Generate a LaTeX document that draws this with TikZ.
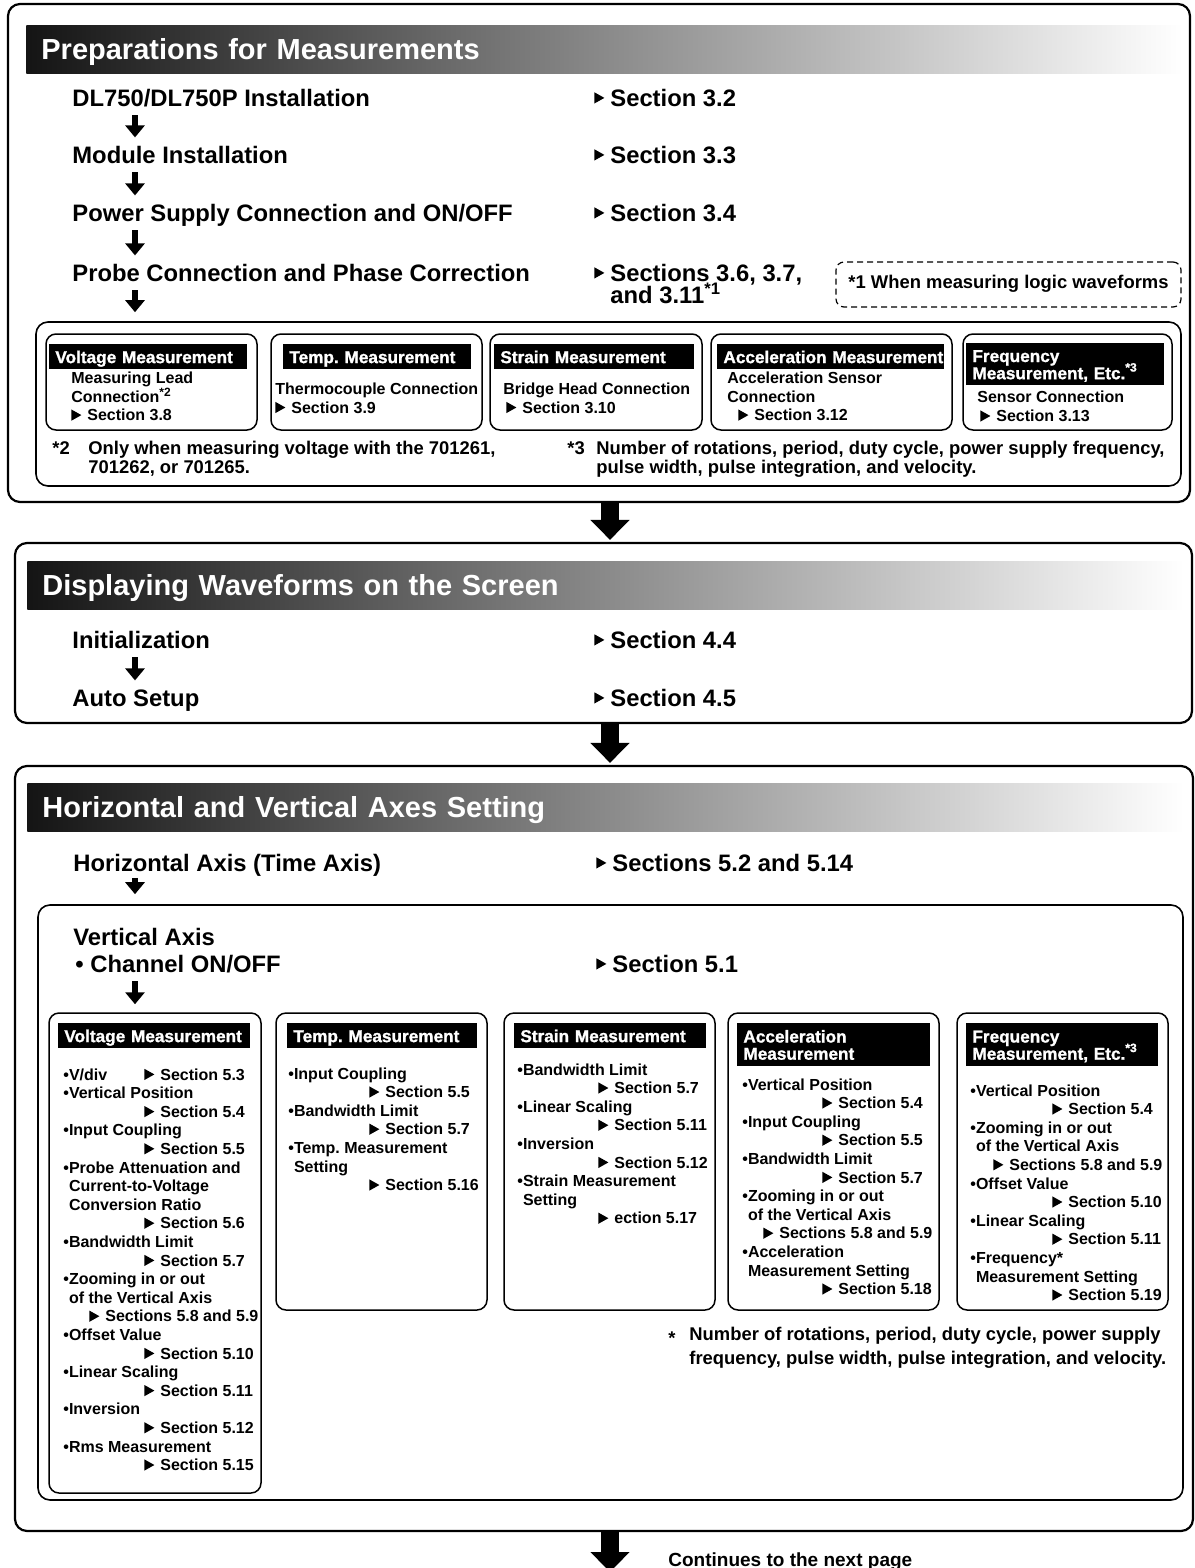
\documentclass[tikz,border=0pt]{standalone}
\usepackage{fontspec}
\setmainfont{Liberation Sans}
\usetikzlibrary{arrows.meta,positioning,fit}
\frenchspacing

\newcommand{\tri}[1][0pt]{\raisebox{#1}{\tikz\fill (0pt,0pt) -- (0pt,5.6pt) -- (5pt,2.8pt) -- cycle;}\hspace{3pt}}

\begin{document}
\begin{tikzpicture}[x=0.5pt, y=-0.5pt,
  frame/.style={draw, line width=1.1pt, rounded corners=6pt, inner sep=0pt},
  inframe/.style={draw, line width=0.8pt, rounded corners=6pt, inner sep=0pt},
  subbox/.style={draw, line width=0.75pt, rounded corners=5pt, inner sep=0pt},
  bar/.style={left color=black!92, right color=white, anchor=north west, minimum height=24pt, text width=563pt, inner xsep=7.5pt, inner ysep=0pt, text height=10.4pt, text depth=0pt, text=white, font=\fontsize{14.5}{16}\selectfont\bfseries},
  lab/.style={fill=black, text=white, anchor=north west, minimum height=12.5pt, inner xsep=3pt, inner ysep=0pt, align=left, text height=6.2pt, text depth=0pt, font=\fontsize{8.6}{8.6}\selectfont\bfseries\addfontfeature{FakeBold=1.2}},
  lab2/.style={lab, text height=6.2pt, text depth=8.6pt},
  item/.style={anchor=base west, inner sep=0pt, text height=8.6pt, text depth=0pt, font=\fontsize{11.9}{14}\selectfont\bfseries},
  body/.style={anchor=north west, inner sep=0pt, align=left, execute at begin node=\strut, font=\fontsize{8}{9.3}\selectfont\bfseries},
  note/.style={anchor=north west, inner sep=0pt, align=left, execute at begin node=\strut, font=\fontsize{9.2}{9.6}\selectfont\bfseries},
  flow/.style={-{Triangle[width=9.5pt,length=6pt]}, line width=3pt, shorten <=4.25pt, shorten >=4.25pt},
  bigflow/.style={-{Triangle[width=19pt,length=10pt]}, line width=9pt}
]
\useasboundingbox (0, 0) rectangle (1194, 1568);
\coordinate (ax) at (135, 0);
\coordinate (mid) at (610, 0);

\node[frame, fit={(8, 4) (1190, 502)}] (prep) {};
\node[bar] (prephead) at (26, 25) {Preparations for Measurements};
\node[item] (inst) at (72, 106.5) {DL750/DL750P Installation};
\node[item] (modl) at (72, 163.5) {Module Installation};
\node[item] (powr) at (72, 221.5) {Power Supply Connection and ON/OFF};
\node[item] (prob) at (72, 281.5) {Probe Connection and Phase Correction};
\node[item] (s32) at (594, 106.5) {\tri[1.5pt]Section 3.2};
\node[item] (s33) at (594, 163.5) {\tri[1.5pt]Section 3.3};
\node[item] (s34) at (594, 221.5) {\tri[1.5pt]Section 3.4};
\node[item] (s36) at (594, 281.5) {\tri[1.5pt]Sections 3.6, 3.7,};
\node[item] (s311) at (610, 303) {and 3.11\smash{\textsuperscript{*1}}};
\node[note, anchor=center, draw, dash pattern=on 3pt off 2pt, line width=0.6pt, rounded corners=4pt, minimum width=172.5pt, minimum height=22.5pt] (logic) at (1008.5, 284.5) {*1 When measuring logic waveforms};

\node[inframe, fit={(36, 322) (1181, 486)}] (mods) {};
\node[subbox, fit={(46, 334) (257, 430)}] (vb1) {};
\node[subbox, fit={(271, 334) (482, 430)}] (tb1) {};
\node[subbox, fit={(490, 334) (702, 430)}] (sb1) {};
\node[subbox, fit={(711, 334) (952, 430)}] (ab1) {};
\node[subbox, fit={(963, 334) (1172, 430)}] (fb1) {};
\node[lab, text width=93pt] (vl1) at (49, 344) {Voltage Measurement};
\node[lab, text width=88pt] (tl1) at (283, 344) {Temp. Measurement};
\node[lab, text width=94pt] (sl1) at (494, 344) {Strain Measurement};
\node[lab, text width=107.5pt] (al1) at (717, 344) {\mbox{Acceleration Measurement}};
\node[lab2, text width=93pt, minimum height=21pt] (fl1) at (966, 343) {Frequency\\Measurement, Etc.\smash{\textsuperscript{*3}}};
\node[body] (vt1) at (71, 371.5) {Measuring Lead\\Connection\smash{\textsuperscript{*2}}\\\tri Section 3.8};
\node[body] (tt1) at (275, 382.5) {Thermocouple Connection\\\tri Section 3.9};
\node[body] (st1) at (503, 382.5) {Bridge Head Connection\\\hspace*{1.5pt}\tri Section 3.10};
\node[body] (at1) at (727, 371.5) {Acceleration Sensor\\Connection\\\hspace*{5.5pt}\tri Section 3.12};
\node[body] (ft1) at (977, 391) {Sensor Connection\\\hspace*{1.5pt}\tri Section 3.13};
\node[note] (n2) at (52, 440.6) {*2};
\node[note] (n2t) at (88, 440.6) {Only when measuring voltage with the 701261,\\701262, or 701265.};
\node[note] (n3) at (567, 440.6) {*3};
\node[note] (n3t) at (596, 440.6) {Number of rotations, period, duty cycle, power supply frequency,\\pulse width, pulse integration, and velocity.};

\draw[flow] (inst.south -| ax) -- (modl.north -| ax);
\draw[flow] (modl.south -| ax) -- (powr.north -| ax);
\draw[flow] (powr.south -| ax) -- (prob.north -| ax);
\draw[flow, shorten >=4.5pt] (prob.south -| ax) -- (mods.north -| ax);

\node[frame, fit={(15, 543) (1192, 723)}] (disp) {};
\node[bar] (disphead) at (27, 561) {Displaying Waveforms on the Screen};
\node[item] (init) at (72, 648.5) {Initialization};
\node[item] (auto) at (72, 706.5) {Auto Setup};
\node[item] (s44) at (594, 648.5) {\tri[1.5pt]Section 4.4};
\node[item] (s45) at (594, 706.5) {\tri[1.5pt]Section 4.5};
\draw[flow] (init.south -| ax) -- (auto.north -| ax);
\draw[bigflow, shorten >=1pt] (prep.south -| mid) -- (disp.north -| mid);

\node[frame, fit={(15, 766) (1193, 1531)}] (axes) {};
\node[bar] (axeshead) at (27, 783) {Horizontal and Vertical Axes Setting};
\node[item] (horz) at (73, 871.5) {Horizontal Axis (Time Axis)};
\node[item] (s52) at (596, 871.5) {\tri[1.5pt]Sections 5.2 and 5.14};
\draw[bigflow, shorten >=1pt] (disp.south -| mid) -- (axes.north -| mid);

\node[inframe, fit={(38, 905) (1183, 1500)}] (vert) {};
\node[item] (vax) at (73, 945.5) {Vertical Axis};
\node[item] (chan) at (75, 972.5) {\textbullet\ Channel ON/OFF};
\node[item] (s51) at (596, 972.5) {\tri[1.5pt]Section 5.1};
\draw[flow, shorten <=3pt, shorten >=5pt] (horz.south -| ax) -- (vert.north -| ax);

\node[subbox, fit={(49, 1013) (261, 1493)}] (vb3) {};
\node[subbox, fit={(276, 1013) (487, 1310)}] (tb3) {};
\node[subbox, fit={(504, 1013) (715, 1310)}] (sb3) {};
\node[subbox, fit={(728, 1013) (939, 1310)}] (ab3) {};
\node[subbox, fit={(957, 1013) (1168, 1310)}] (fb3) {};
\draw[flow, shorten >=4pt] (chan.south -| ax) -- (vb3.north -| ax);

\node[lab, text width=90pt] (vl3) at (58, 1023) {Voltage Measurement};
\node[lab, text width=89pt] (tl3) at (287, 1023) {Temp. Measurement};
\node[lab, text width=90pt] (sl3) at (514, 1023) {Strain Measurement};
\node[lab2, text width=90.5pt, minimum height=21.5pt] (al3) at (737, 1023) {Acceleration\\Measurement};
\node[lab2, text width=90pt, minimum height=21.5pt] (fl3) at (966, 1023) {Frequency\\Measurement, Etc.\smash{\textsuperscript{*3}}};

\node[body] (vt3) at (63, 1068) {\makebox[40.5pt][l]{\textbullet V/div}\tri Section 5.3\\
  \textbullet Vertical Position\\\hspace*{40.5pt}\tri Section 5.4\\
  \textbullet Input Coupling\\\hspace*{40.5pt}\tri Section 5.5\\
  \textbullet Probe Attenuation and\\\hspace*{2.8pt}Current-to-Voltage\\\hspace*{2.8pt}Conversion Ratio\\\hspace*{40.5pt}\tri Section 5.6\\
  \textbullet Bandwidth Limit\\\hspace*{40.5pt}\tri Section 5.7\\
  \textbullet Zooming in or out\\\hspace*{2.8pt}of the Vertical Axis\\\hspace*{13pt}\tri Sections 5.8 and 5.9\\
  \textbullet Offset Value\\\hspace*{40.5pt}\tri Section 5.10\\
  \textbullet Linear Scaling\\\hspace*{40.5pt}\tri Section 5.11\\
  \textbullet Inversion\\\hspace*{40.5pt}\tri Section 5.12\\
  \textbullet Rms Measurement\\\hspace*{40.5pt}\tri Section 5.15};
\node[body] (tt3) at (288, 1067) {\textbullet Input Coupling\\\hspace*{40.5pt}\tri Section 5.5\\
  \textbullet Bandwidth Limit\\\hspace*{40.5pt}\tri Section 5.7\\
  \textbullet Temp. Measurement\\\hspace*{2.8pt}Setting\\\hspace*{40.5pt}\tri Section 5.16};
\node[body] (st3) at (517, 1063) {\textbullet Bandwidth Limit\\\hspace*{40.5pt}\tri Section 5.7\\
  \textbullet Linear Scaling\\\hspace*{40.5pt}\tri Section 5.11\\
  \textbullet Inversion\\\hspace*{40.5pt}\tri Section 5.12\\
  \textbullet Strain Measurement\\\hspace*{2.8pt}Setting\\\hspace*{40.5pt}\tri ection 5.17};
\node[body] (at3) at (742, 1078) {\textbullet Vertical Position\\\hspace*{40pt}\tri Section 5.4\\
  \textbullet Input Coupling\\\hspace*{40pt}\tri Section 5.5\\
  \textbullet Bandwidth Limit\\\hspace*{40pt}\tri Section 5.7\\
  \textbullet Zooming in or out\\\hspace*{2.8pt}of the Vertical Axis\\\hspace*{10.5pt}\tri Sections 5.8 and 5.9\\
  \textbullet Acceleration\\\hspace*{2.8pt}Measurement Setting\\\hspace*{40pt}\tri Section 5.18};
\node[body] (ft3) at (970, 1084) {\textbullet Vertical Position\\\hspace*{41pt}\tri Section 5.4\\
  \textbullet Zooming in or out\\\hspace*{2.8pt}of the Vertical Axis\\\hspace*{11.5pt}\tri Sections 5.8 and 5.9\\
  \textbullet Offset Value\\\hspace*{41pt}\tri Section 5.10\\
  \textbullet Linear Scaling\\\hspace*{41pt}\tri Section 5.11\\
  \textbullet Frequency*\\\hspace*{2.8pt}Measurement Setting\\\hspace*{41pt}\tri Section 5.19};

\node[note, font=\fontsize{9.2}{12}\selectfont\bfseries] (n4) at (668, 1327.2) {*};
\node[note, font=\fontsize{9.2}{12}\selectfont\bfseries] (n4t) at (689, 1327.2) {Number of rotations, period, duty cycle, power supply\\frequency, pulse width, pulse integration, and velocity.};

\coordinate (nextpg) at (610, 1572);
\draw[bigflow] (axes.south -| mid) -- (nextpg);
\node[note, font=\fontsize{9.5}{11}\selectfont\bfseries] (cont) at (668, 1550.6) {Continues to the next page};
\end{tikzpicture}
\end{document}
